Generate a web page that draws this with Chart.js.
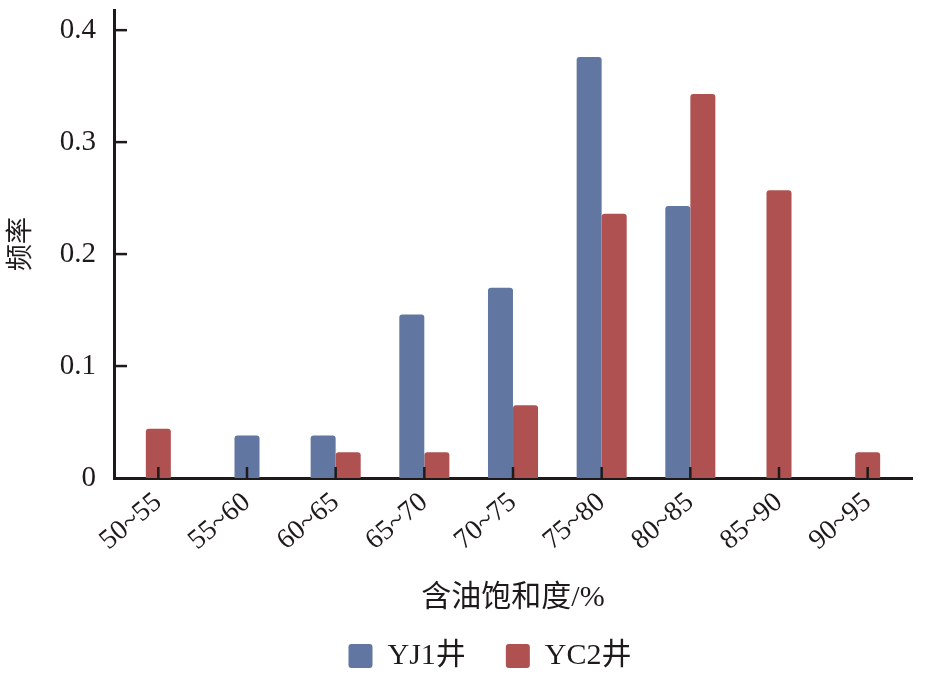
<!DOCTYPE html>
<html>
<head>
<meta charset="utf-8">
<script src="https://cdn.jsdelivr.net/npm/chart.js@4.4.0/dist/chart.umd.min.js"></script>
<style>
    html, body { margin: 0; background: #fff; }
    #wrap { width: 929px; height: 674px; }
</style>
</head>
<body>
<div id="wrap"><canvas id="graficoSaturacao"></canvas></div>
<script>
// Dados
const categorias = ["50~55", "55~60", "60~65", "65~70", "70~75", "75~80", "80~85", "85~90", "90~95"];
const valoresYJ1 = [null, 0.038, 0.038, 0.146, 0.170, 0.376, 0.243, null, null];
const valoresYC2 = [0.044, null, 0.023, 0.023, 0.065, 0.236, 0.343, 0.257, 0.023];
const ticksY = [0, 0.1, 0.2, 0.3, 0.4];

const fonteSerif = "'Liberation Serif', 'Noto Sans CJK SC', serif";
const corTexto = "#1e1a1a";

// marcas dos eixos voltadas para dentro
const marcasInternas = {
    id: "marcasInternas",
    afterDatasetsDraw(chart) {
        const { ctx, chartArea, scales } = chart;
        ctx.save();
        ctx.strokeStyle = corTexto;
        ctx.lineWidth = 2.5;
        scales.x.ticks.forEach((t, i) => {
            const px = scales.x.getPixelForTick(i);
            ctx.beginPath();
            ctx.moveTo(px, chartArea.bottom);
            ctx.lineTo(px, chartArea.bottom - 11);
            ctx.stroke();
        });
        scales.y.ticks.forEach((t, i) => {
            const py = scales.y.getPixelForTick(i);
            if (t.value === 0) return;
            ctx.beginPath();
            ctx.moveTo(chartArea.left, py);
            ctx.lineTo(chartArea.left + 13, py);
            ctx.stroke();
        });
        ctx.restore();
    },
};

// desloca a legenda para a posição do original
const moverLegenda = {
    id: "moverLegenda",
    afterLayout(chart) {
        const lg = chart.legend;
        if (!lg) return;
        lg.left += 34;
        lg.right += 34;
        lg.top -= 25;
        lg.bottom -= 25;
    },
};

const dataSaturacao = {
    labels: categorias,
    datasets: [
        {
            label: "YJ1井",
            backgroundColor: "#6176a1",
            borderColor: "#6176a1",
            data: valoresYJ1,
        },
        {
            label: "YC2井",
            backgroundColor: "#ae5150",
            borderColor: "#ae5150",
            data: valoresYC2,
        },
    ],
};

const configSaturacao = {
    type: "bar",
    data: dataSaturacao,
    options: {
        maintainAspectRatio: false,
        animation: false,
        devicePixelRatio: 1,
        layout: { padding: { top: 10, right: 17, left: 0, bottom: -32 } },
        datasets: {
            bar: {
                skipNull: true,
                categoryPercentage: 0.565,
                barPercentage: 1,
                maxBarThickness: 25,
                borderRadius: { topLeft: 3, topRight: 3 },
                borderSkipped: "bottom",
            },
        },
        scales: {
            x: {
                z: 1,
                offset: true,
                grid: { display: false, drawTicks: false },
                border: { display: true, color: corTexto, width: 3 },
                ticks: {
                    color: corTexto,
                    font: { family: fonteSerif, size: 28 },
                    minRotation: 40,
                    maxRotation: 40,
                    padding: 8,
                    autoSkip: false,
                },
                title: {
                    display: true,
                    text: "含油饱和度/%",
                    color: corTexto,
                    font: { family: fonteSerif, size: 30 },
                    padding: { top: 0, bottom: 10 },
                },
                afterFit(scale) {
                    scale.height = 148;
                    scale.paddingLeft = 0;
                    scale.paddingRight = 0;
                },
            },
            y: {
                z: 1,
                min: 0,
                max: 0.418,
                grid: { display: false, drawTicks: false },
                border: { display: true, color: corTexto, width: 3 },
                afterBuildTicks(scale) {
                    scale.ticks = ticksY.map((v) => ({ value: v }));
                },
                ticks: {
                    color: corTexto,
                    font: { family: fonteSerif, size: 29 },
                    padding: 18,
                    callback: (v) => (v === 0 ? "0" : v.toFixed(1)),
                },
                title: {
                    display: true,
                    text: "频率",
                    color: corTexto,
                    font: { family: fonteSerif, size: 27 },
                    padding: { top: 6, bottom: 8 },
                },
                afterFit(scale) {
                    scale.width = 114;
                    scale.paddingTop = 0;
                    scale.paddingBottom = 0;
                },
            },
        },
        plugins: {
            tooltip: { enabled: false },
            legend: {
                position: "bottom",
                labels: {
                    color: corTexto,
                    font: { family: fonteSerif, size: 30 },
                    boxWidth: 24,
                    boxHeight: 24,
                    useBorderRadius: true,
                    borderRadius: 3,
                    padding: 40,
                },
            },
        },
    },
    plugins: [marcasInternas, moverLegenda],
};

var graficoSaturacao = new Chart(
    document.getElementById("graficoSaturacao"),
    configSaturacao
);
</script>
</body>
</html>
